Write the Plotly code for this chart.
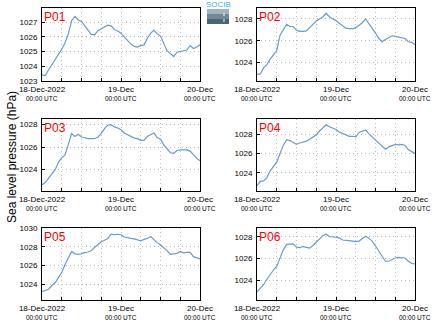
import pandas as pd
import plotly.graph_objects as go

# ---- data ----
times = pd.date_range("2022-12-18 00:00", periods=49, freq="h")

stations = ["P01", "P02", "P03", "P04", "P05", "P06"]

p01 = [1023.4, 1023.35, 1023.75, 1024.1, 1024.4, 1024.8, 1025.15, 1025.6, 1026.2, 1027.1,
       1027.4, 1027.15, 1027.05, 1026.75, 1026.45, 1026.15, 1026.15, 1026.4, 1026.55, 1026.7,
       1026.8, 1026.75, 1026.5, 1026.4, 1026.25, 1026.0, 1025.75, 1025.5, 1025.35, 1025.3,
       1025.4, 1025.45, 1025.9, 1026.25, 1026.45, 1026.2, 1026.05, 1025.5, 1025.05, 1024.85,
       1024.65, 1024.95, 1025.0, 1025.0, 1025.1, 1025.4, 1025.2, 1025.3, 1025.45]
p02 = [1022.9, 1022.95, 1023.5, 1023.8, 1024.3, 1024.75, 1025.1, 1026.5, 1026.95, 1027.5,
       1027.3, 1027.3, 1026.95, 1026.85, 1026.85, 1026.9, 1027.2, 1027.5, 1027.8, 1028.0,
       1028.2, 1028.5, 1028.2, 1028.0, 1027.85, 1027.6, 1027.35, 1027.15, 1027.1, 1027.1,
       1027.2, 1027.4, 1027.65, 1028.0, 1027.6, 1027.2, 1026.7, 1026.2, 1025.9, 1026.1,
       1026.3, 1026.45, 1026.4, 1026.35, 1026.3, 1026.2, 1025.9, 1025.85, 1025.65]
p03 = [1022.65, 1022.85, 1023.25, 1023.6, 1024.0, 1024.65, 1025.05, 1025.3, 1026.2, 1027.2,
       1026.95, 1027.15, 1026.9, 1026.8, 1026.75, 1026.75, 1026.75, 1026.9, 1027.2, 1027.65,
       1027.95, 1028.0, 1027.8, 1027.7, 1027.55, 1027.25, 1027.1, 1026.9, 1026.8, 1026.75,
       1026.6, 1026.6, 1026.95, 1027.1, 1027.25, 1026.85, 1026.7, 1026.2, 1025.8, 1025.5,
       1025.45, 1025.7, 1025.75, 1025.75, 1025.75, 1025.65, 1025.35, 1025.0, 1024.8]
p04 = [1022.65, 1023.1, 1023.15, 1023.5, 1024.2, 1024.7, 1025.1, 1026.0, 1026.85, 1027.45,
       1027.35, 1027.15, 1026.95, 1027.1, 1027.2, 1027.3, 1027.5, 1027.7, 1027.95, 1028.35,
       1028.65, 1029.0, 1028.8, 1028.65, 1028.5, 1028.25, 1028.1, 1027.9, 1027.8, 1027.8,
       1027.75, 1028.2, 1028.3, 1028.45, 1028.05, 1027.75, 1027.45, 1027.05, 1026.75, 1026.45,
       1026.7, 1026.8, 1026.95, 1026.9, 1026.95, 1026.85, 1026.4, 1026.2, 1026.0]
p05 = [1023.2, 1023.35, 1023.45, 1023.85, 1024.15, 1024.7, 1025.25, 1026.1, 1026.85, 1027.5,
       1027.25, 1027.2, 1027.25, 1027.4, 1027.45, 1027.6, 1027.95, 1028.2, 1028.55, 1028.7,
       1028.9, 1029.35, 1029.3, 1029.35, 1029.3, 1029.05, 1028.95, 1028.9, 1028.85, 1028.75,
       1028.65, 1028.8, 1028.9, 1029.1, 1028.75, 1028.45, 1028.2, 1027.95, 1027.6, 1027.2,
       1027.25, 1027.3, 1027.5, 1027.35, 1027.4, 1027.4, 1026.95, 1026.85, 1026.7]
p06 = [1022.95, 1023.3, 1023.6, 1024.1, 1024.55, 1024.95, 1025.3, 1026.1, 1026.8, 1027.3,
       1027.3, 1027.35, 1027.05, 1027.0, 1027.1, 1027.05, 1026.95, 1027.2, 1027.5, 1027.8,
       1028.1, 1028.25, 1028.0, 1028.0, 1027.95, 1027.9, 1027.7, 1027.7, 1027.65, 1027.6,
       1027.55, 1027.6, 1027.8, 1028.05, 1027.85, 1027.6, 1027.15, 1026.7, 1026.2, 1025.75,
       1025.75, 1025.9, 1026.05, 1026.1, 1026.1, 1026.05, 1025.75, 1025.55, 1025.5]
series = [p01, p02, p03, p04, p05, p06]

y_ranges = [[1022.98, 1027.97], [1022.3, 1029.0], [1022.1, 1028.5],
            [1022.1, 1029.6], [1022.3, 1030.02], [1022.2, 1028.8]]
y_dticks = [1, 2, 2, 2, 2, 2]

tick_times = pd.date_range("2022-12-18", "2022-12-20", freq="6h")
day_labels = {0: "18-Dec-2022", 4: "19-Dec", 8: "20-Dec"}
tick_text = [day_labels.get(i, "") for i in range(len(tick_times))]
sub_label = "00:00 UTC"

ylabel = "Sea level pressure (hPa)"

# ---- layout geometry (pixels) ----
W, H = 434, 327
cols_px = [(42, 200), (257, 415)]
rows_px = [(8, 81), (119, 191), (228, 300)]

FONT = "Liberation Sans, Arial, sans-serif"
LINE_COLOR = "#6b9bc8"
GRID = "#bdbdbd"

fig = go.Figure()
layout = dict(
    width=W, height=H, margin=dict(l=0, r=0, t=0, b=0, autoexpand=False),
    paper_bgcolor="white", plot_bgcolor="white", showlegend=False,
    font=dict(family=FONT, color="black"),
)
annotations = []

for k, (name, vals) in enumerate(zip(stations, series)):
    r, c = divmod(k, 2)
    x0, x1 = cols_px[c]
    yt, yb = rows_px[r]
    xs = "" if k == 0 else str(k + 1)
    fig.add_trace(go.Scatter(x=times, y=vals, mode="lines",
                             line=dict(color=LINE_COLOR, width=1.2),
                             xaxis="x" + xs, yaxis="y" + xs, hoverinfo="skip"))
    layout["xaxis" + xs] = dict(
        domain=[x0 / W, x1 / W], anchor="y" + xs, automargin=False,
        range=[times[0], times[-1]],
        tickmode="array", tickvals=list(tick_times), ticktext=tick_text,
        ticks="inside", ticklen=3, tickcolor="black", tickwidth=1,
        showline=True, linecolor="black", linewidth=1, mirror=True,
        showgrid=True, gridcolor=GRID, griddash="1px,3px", gridwidth=1,
        tickfont=dict(size=8, family=FONT), zeroline=False,
    )
    layout["yaxis" + xs] = dict(
        domain=[1 - yb / H, 1 - yt / H], anchor="x" + xs, automargin=False,
        range=y_ranges[k], dtick=y_dticks[k], tick0=1020,
        ticks="inside", ticklen=3, tickcolor="black", tickwidth=1,
        showline=True, linecolor="black", linewidth=1, mirror=True,
        showgrid=True, gridcolor=GRID, griddash="1px,3px", gridwidth=1,
        tickfont=dict(size=8, family=FONT), zeroline=False, ticklabelstandoff=2,
    )
    annotations.append(dict(
        text=name, xref="paper", yref="paper", x=(x0 + 1) / W, y=1 - (yt + 1) / H,
        xanchor="left", yanchor="top", showarrow=False,
        font=dict(size=12, color="#ff0000", family=FONT), borderpad=0,
    ))
    for i in day_labels:
        annotations.append(dict(
            text=sub_label, xref="x" + xs, yref="paper", x=tick_times[i],
            y=1 - (yb + 17.5) / H, xanchor="center", yanchor="middle",
            showarrow=False, font=dict(size=6.5, color="black", family=FONT),
            borderpad=0,
        ))

annotations.append(dict(
    text=ylabel, xref="paper", yref="paper", x=12 / W, y=1 - 157 / H,
    textangle=-90, showarrow=False, xanchor="center", yanchor="middle",
    font=dict(size=12, color="black", family=FONT),
))
annotations.append(dict(
    text="SOCIB", xref="paper", yref="paper", x=218 / W, y=1 - 5 / H,
    showarrow=False, xanchor="center", yanchor="middle",
    font=dict(size=8, color="#3fb3d6", family=FONT), borderpad=0,
))

shapes = [
    dict(type="rect", xref="paper", yref="paper", x0=207 / W, x1=229 / W,
         y0=1 - 14 / H, y1=1 - 9 / H, line=dict(width=0), fillcolor="#9fb6c1"),
    dict(type="rect", xref="paper", yref="paper", x0=207 / W, x1=229 / W,
         y0=1 - 19 / H, y1=1 - 14 / H, line=dict(width=0), fillcolor="#6f8b9a"),
    dict(type="rect", xref="paper", yref="paper", x0=207 / W, x1=229 / W,
         y0=1 - 24 / H, y1=1 - 19 / H, line=dict(width=0), fillcolor="#4c6474"),
    dict(type="line", xref="paper", yref="paper", x0=224 / W, x1=224 / W,
         y0=1 - 22 / H, y1=1 - 11 / H, line=dict(width=1, color="white", dash="dot")),
]

layout["annotations"] = annotations
layout["shapes"] = shapes
fig.update_layout(**layout)
fig.write_html("out.html")
